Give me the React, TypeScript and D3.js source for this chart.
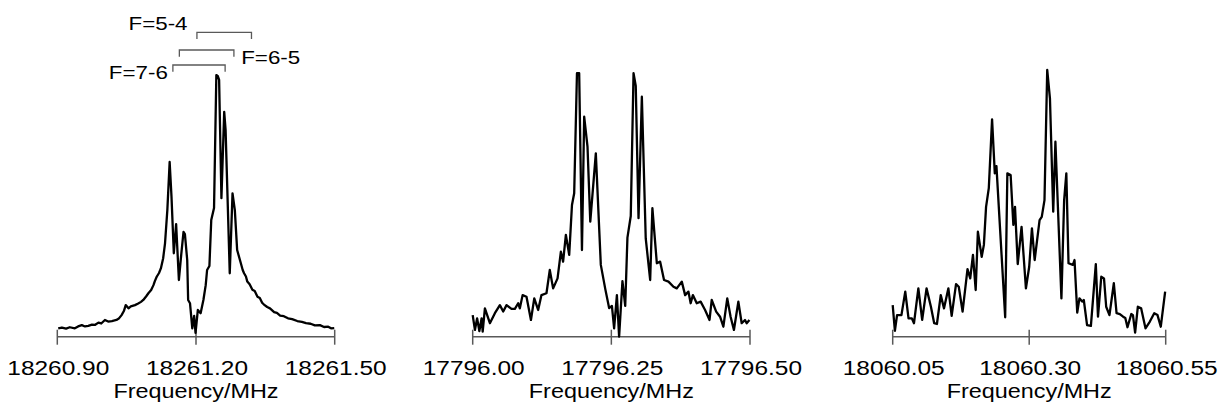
import React from "react";
import * as d3 from "d3";

// spectra; frequency in MHz, intensity in arbitrary units (0-100)
const freq1 = [18260.902, 18260.910, 18260.919, 18260.927, 18260.938, 18260.945, 18260.953, 18260.960, 18260.967, 18260.975, 18260.982, 18260.989, 18260.995, 18261.003, 18261.010, 18261.018, 18261.028, 18261.033, 18261.039, 18261.044, 18261.048, 18261.054, 18261.059, 18261.068, 18261.075, 18261.081, 18261.086, 18261.092, 18261.097, 18261.103, 18261.108, 18261.111, 18261.115, 18261.120, 18261.124, 18261.129, 18261.133, 18261.138, 18261.143, 18261.147, 18261.152, 18261.157, 18261.163, 18261.168, 18261.173, 18261.176, 18261.181, 18261.183, 18261.187, 18261.192, 18261.196, 18261.199, 18261.204, 18261.210, 18261.216, 18261.221, 18261.224, 18261.229, 18261.233, 18261.239, 18261.244, 18261.247, 18261.250, 18261.255, 18261.261, 18261.264, 18261.273, 18261.279, 18261.284, 18261.289, 18261.297, 18261.301, 18261.304, 18261.308, 18261.311, 18261.316, 18261.322, 18261.327, 18261.333, 18261.338, 18261.343, 18261.347, 18261.354, 18261.360, 18261.369, 18261.375, 18261.382, 18261.390, 18261.399, 18261.408, 18261.419, 18261.429, 18261.438, 18261.448, 18261.457, 18261.468, 18261.477, 18261.486, 18261.492, 18261.499];
const int1 = [3.1, 3.4, 3.0, 3.5, 3.1, 3.8, 4.3, 3.8, 4.0, 4.5, 4.4, 5.2, 4.9, 6.2, 5.6, 5.8, 6.2, 6.7, 8.0, 9.5, 11.7, 10.5, 11.2, 11.7, 12.3, 12.9, 13.6, 14.9, 16.1, 17.3, 19.1, 20.6, 22.2, 23.6, 25.3, 29.1, 34.6, 46.9, 64.7, 51.9, 30.9, 41.7, 21.0, 30.3, 38.8, 38.0, 28.4, 13.6, 12.4, 3.1, 7.7, 1.4, 9.9, 8.7, 13.6, 19.1, 24.7, 26.2, 43.2, 47.7, 96.9, 96.6, 95.1, 51.3, 83.3, 76.6, 23.5, 53.1, 46.9, 32.1, 27.2, 24.7, 23.5, 22.3, 20.4, 19.4, 17.4, 16.9, 14.8, 14.3, 12.6, 11.9, 11.0, 10.5, 9.1, 8.8, 7.8, 7.6, 6.8, 6.5, 5.8, 5.5, 5.0, 4.8, 4.2, 4.3, 3.6, 3.7, 3.1, 3.2];

const freq2 = [17796.000, 17796.004, 17796.008, 17796.012, 17796.016, 17796.018, 17796.022, 17796.031, 17796.040, 17796.049, 17796.055, 17796.061, 17796.070, 17796.076, 17796.082, 17796.085, 17796.090, 17796.097, 17796.105, 17796.111, 17796.118, 17796.124, 17796.133, 17796.139, 17796.145, 17796.153, 17796.159, 17796.163, 17796.168, 17796.174, 17796.179, 17796.183, 17796.188, 17796.192, 17796.197, 17796.201, 17796.207, 17796.212, 17796.222, 17796.231, 17796.239, 17796.246, 17796.251, 17796.255, 17796.260, 17796.264, 17796.270, 17796.275, 17796.279, 17796.285, 17796.290, 17796.294, 17796.299, 17796.305, 17796.312, 17796.320, 17796.324, 17796.332, 17796.338, 17796.345, 17796.353, 17796.362, 17796.368, 17796.377, 17796.383, 17796.389, 17796.393, 17796.397, 17796.404, 17796.411, 17796.419, 17796.427, 17796.431, 17796.439, 17796.446, 17796.452, 17796.459, 17796.465, 17796.471, 17796.479, 17796.485, 17796.491, 17796.494, 17796.499];
const int2 = [8.0, 2.5, 6.8, 2.1, 6.8, 1.9, 10.5, 5.0, 8.7, 11.7, 9.3, 11.7, 10.3, 10.3, 12.4, 10.5, 15.4, 14.8, 6.2, 14.2, 9.9, 15.4, 16.1, 24.7, 17.9, 21.6, 31.5, 27.8, 37.7, 30.3, 48.8, 53.1, 97.6, 97.6, 32.1, 81.5, 70.4, 42.6, 67.9, 26.6, 17.7, 10.6, 11.4, 3.1, 15.4, 0, 20.6, 11.4, 36.7, 44.7, 97.6, 92.9, 43.9, 88.9, 36.4, 21.0, 47.6, 27.2, 27.8, 21.0, 20.4, 18.5, 17.9, 20.4, 15.4, 16.7, 12.4, 15.4, 12.4, 13.0, 9.9, 6.2, 13.6, 9.3, 7.4, 3.7, 14.2, 7.4, 2.5, 13.0, 5.0, 6.2, 5.0, 6.2];

const freq3 = [18060.050, 18060.054, 18060.058, 18060.066, 18060.073, 18060.079, 18060.085, 18060.089, 18060.097, 18060.104, 18060.112, 18060.120, 18060.126, 18060.131, 18060.138, 18060.144, 18060.152, 18060.158, 18060.166, 18060.171, 18060.178, 18060.187, 18060.192, 18060.197, 18060.202, 18060.206, 18060.213, 18060.217, 18060.221, 18060.226, 18060.232, 18060.237, 18060.240, 18060.256, 18060.260, 18060.266, 18060.271, 18060.274, 18060.279, 18060.286, 18060.294, 18060.300, 18060.305, 18060.310, 18060.319, 18060.323, 18060.328, 18060.333, 18060.338, 18060.344, 18060.348, 18060.359, 18060.364, 18060.368, 18060.372, 18060.380, 18060.383, 18060.388, 18060.392, 18060.397, 18060.400, 18060.406, 18060.413, 18060.422, 18060.426, 18060.432, 18060.437, 18060.441, 18060.447, 18060.455, 18060.460, 18060.466, 18060.472, 18060.476, 18060.480, 18060.487, 18060.490, 18060.494, 18060.499, 18060.505, 18060.513, 18060.521, 18060.529, 18060.535, 18060.541, 18060.549];
const int3 = [11.7, 2.2, 8.0, 8.0, 16.7, 6.8, 6.8, 5.0, 17.9, 6.2, 17.9, 11.1, 5.0, 4.7, 15.4, 10.5, 17.9, 7.7, 19.5, 18.5, 9.3, 25.0, 21.6, 30.3, 17.3, 38.9, 29.6, 34.0, 48.1, 55.0, 80.5, 60.5, 63.2, 7.2, 60.5, 59.9, 41.4, 48.1, 26.9, 40.7, 17.9, 25.9, 40.1, 28.4, 43.2, 44.4, 50.6, 98.8, 88.3, 46.3, 72.2, 14.2, 50.6, 60.5, 27.2, 26.6, 28.4, 8.9, 14.2, 13.0, 13.6, 4.3, 4.0, 26.9, 7.4, 22.2, 21.6, 11.1, 8.0, 19.8, 8.7, 8.4, 7.4, 6.9, 3.5, 8.4, 8.0, 1.5, 11.1, 10.5, 3.1, 5.6, 8.7, 8.0, 3.7, 16.7];

const ticks1 = [18260.9, 18261.2, 18261.5];
const ticks2 = [17796.0, 17796.25, 17796.5];
const ticks3 = [18060.05, 18060.3, 18060.55];

// hyperfine brackets in panel 1: [start, end] MHz
const bracketNames = ["F=7-6", "F=6-5", "F=5-4"];
const bracketStart = [18261.150, 18261.164, 18261.202];
const bracketEnd = [18261.263, 18261.282, 18261.320];

const FONT = "'Liberation Sans', Arial, sans-serif";
const AXIS_Y = 336.7;
const TOP_Y = 66.7;
const AXIS_COLOR = "#595959";

type PanelProps = {
  freq: number[];
  inten: number[];
  ticks: number[];
  left: number;
  right: number;
  children?: (x: d3.ScaleLinear<number, number>) => React.ReactNode;
};

const Panel = ({ freq, inten, ticks, left, right, children }: PanelProps) => {
  const x = d3.scaleLinear().domain([ticks[0], ticks[ticks.length - 1]]).range([left, right]);
  const y = d3.scaleLinear().domain([0, 100]).range([AXIS_Y, TOP_Y]);
  const line = d3
    .line<number>()
    .x((_, i) => x(freq[i]))
    .y((d) => y(d));
  const mid = (left + right) / 2;

  return (
    <g>
      <line x1={left} x2={right} y1={AXIS_Y} y2={AXIS_Y} stroke={AXIS_COLOR} strokeWidth={1.5} />
      {ticks.map((t) => {
        const tx = x(t);
        return (
          <g key={t}>
            <line x1={tx} x2={tx} y1={AXIS_Y - 7} y2={AXIS_Y + 8} stroke={AXIS_COLOR} strokeWidth={1.5} />
            <text
              x={tx + 1}
              y={374.5}
              fontSize={20.5}
              textAnchor="middle"
              textLength={102}
              lengthAdjust="spacingAndGlyphs"
              fill="#000"
            >
              {t.toFixed(2)}
            </text>
          </g>
        );
      })}
      <path d={line(inten) || ""} fill="none" stroke="#000" strokeWidth={2.3} strokeLinejoin="round" />
      <text x={mid} y={398} fontSize={19.5} textAnchor="middle" textLength={165} lengthAdjust="spacingAndGlyphs" fill="#000">
        Frequency/MHz
      </text>
      {children && children(x)}
    </g>
  );
};

// bracket rows (top of bracket, px) and label placement
const bracketTop = [65, 50, 32.3];

const Brackets = ({ x }: { x: d3.ScaleLinear<number, number> }) => (
  <g>
    {bracketNames.map((name, i) => {
      const x0 = x(bracketStart[i]);
      const x1 = x(bracketEnd[i]);
      const yTop = bracketTop[i];
      const d = `M${x0},${yTop + 6.7}V${yTop}H${x1}V${yTop + 6.7}`;
      let lx = x0 - 5;
      let ly = yTop + 14.3;
      let anchor = "end";
      if (i === 1) {
        lx = x1 + 7.3;
        ly = yTop + 14.3;
        anchor = "start";
      }
      if (i === 2) {
        lx = x0 - 9.4;
        ly = yTop - 2.3;
        anchor = "end";
      }
      return (
        <g key={name}>
          <path d={d} fill="none" stroke={AXIS_COLOR} strokeWidth={1.3} />
          <text x={lx} y={ly} fontSize={18.6} textAnchor={anchor} textLength={59} lengthAdjust="spacingAndGlyphs" fill="#000">
            {name}
          </text>
        </g>
      );
    })}
  </g>
);

export default function App() {
  return (
    <svg
      width={1220}
      height={409}
      style={{ position: "absolute", left: 0, top: 0, background: "#fff" }}
      fontFamily={FONT}
    >
      <Panel freq={freq1} inten={int1} ticks={ticks1} left={57.3} right={334.7}>
        {(x) => <Brackets x={x} />}
      </Panel>
      <Panel freq={freq2} inten={int2} ticks={ticks2} left={472.7} right={750} />
      <Panel freq={freq3} inten={int3} ticks={ticks3} left={892.7} right={1165.7} />
    </svg>
  );
}
